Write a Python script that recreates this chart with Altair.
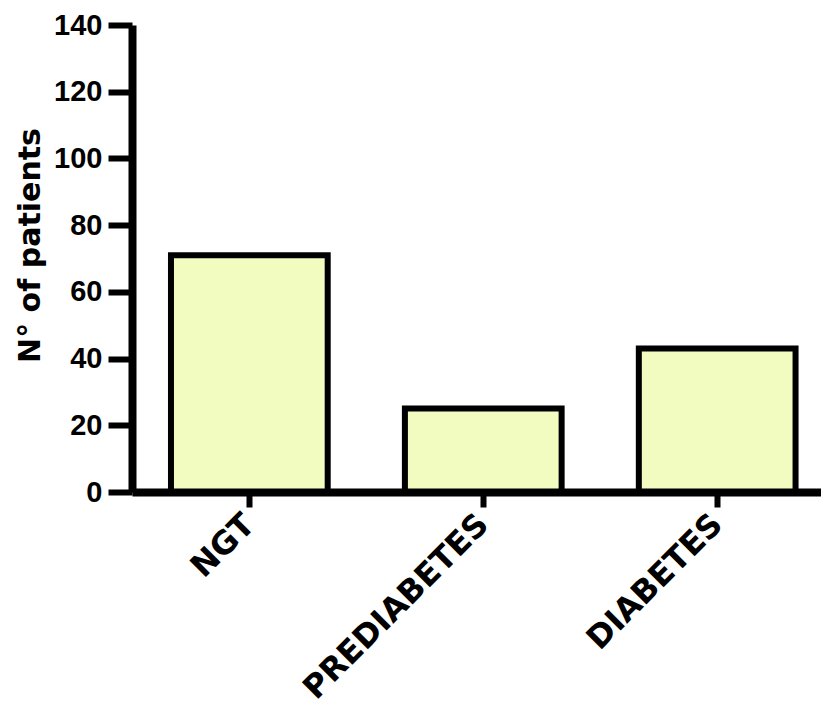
import altair as alt
import pandas as pd

categories = ["NGT", "PREDIABETES", "DIABETES"]
patients = [71, 25, 43]
y_ticks = [0, 20, 40, 60, 80, 100, 120, 140]

df = pd.DataFrame({"group": categories, "n": patients})

chart = alt.Chart(df).mark_bar(
    fill="#F3FCC0", stroke="black", strokeWidth=6, strokeJoin="miter"
).encode(
    x=alt.X(
        "group:N", sort=categories,
        scale=alt.Scale(paddingInner=0.33, paddingOuter=0.1377, align=0.605),
        axis=alt.Axis(
            title=None, labelAngle=-45, labelAlign="right", labelBaseline="middle",
            labelFont="DejaVu Sans", labelFontWeight="bold", labelFontSize=32,
            labelColor="black", labelPadding=12, labelLimit=0,
            domainColor="black", domainWidth=8, tickColor="black", tickWidth=6,
            tickSize=15, zindex=1,
        ),
    ),
    y=alt.Y(
        "n:Q",
        scale=alt.Scale(domain=[0, 140], nice=False),
        axis=alt.Axis(
            title="N° of patients", values=y_ticks,
            titleFont="DejaVu Sans", titleFontWeight="bold", titleFontSize=30,
            titleColor="black", titlePadding=8, titleY=220,
            labelFont="Liberation Sans", labelFontWeight="bold", labelFontSize=29,
            labelColor="black", labelPadding=6,
            domainColor="black", domainWidth=8, tickColor="black", tickWidth=6,
            tickSize=24, grid=False, zindex=1,
        ),
    ),
).properties(
    width=689, height=467,
    autosize=alt.AutoSizeParams(type="none"),
    padding={"left": 124, "top": 17, "right": 0, "bottom": 217},
).configure_view(stroke=None)

chart.save("out.html", embed_options={"renderer": "svg", "actions": False})
